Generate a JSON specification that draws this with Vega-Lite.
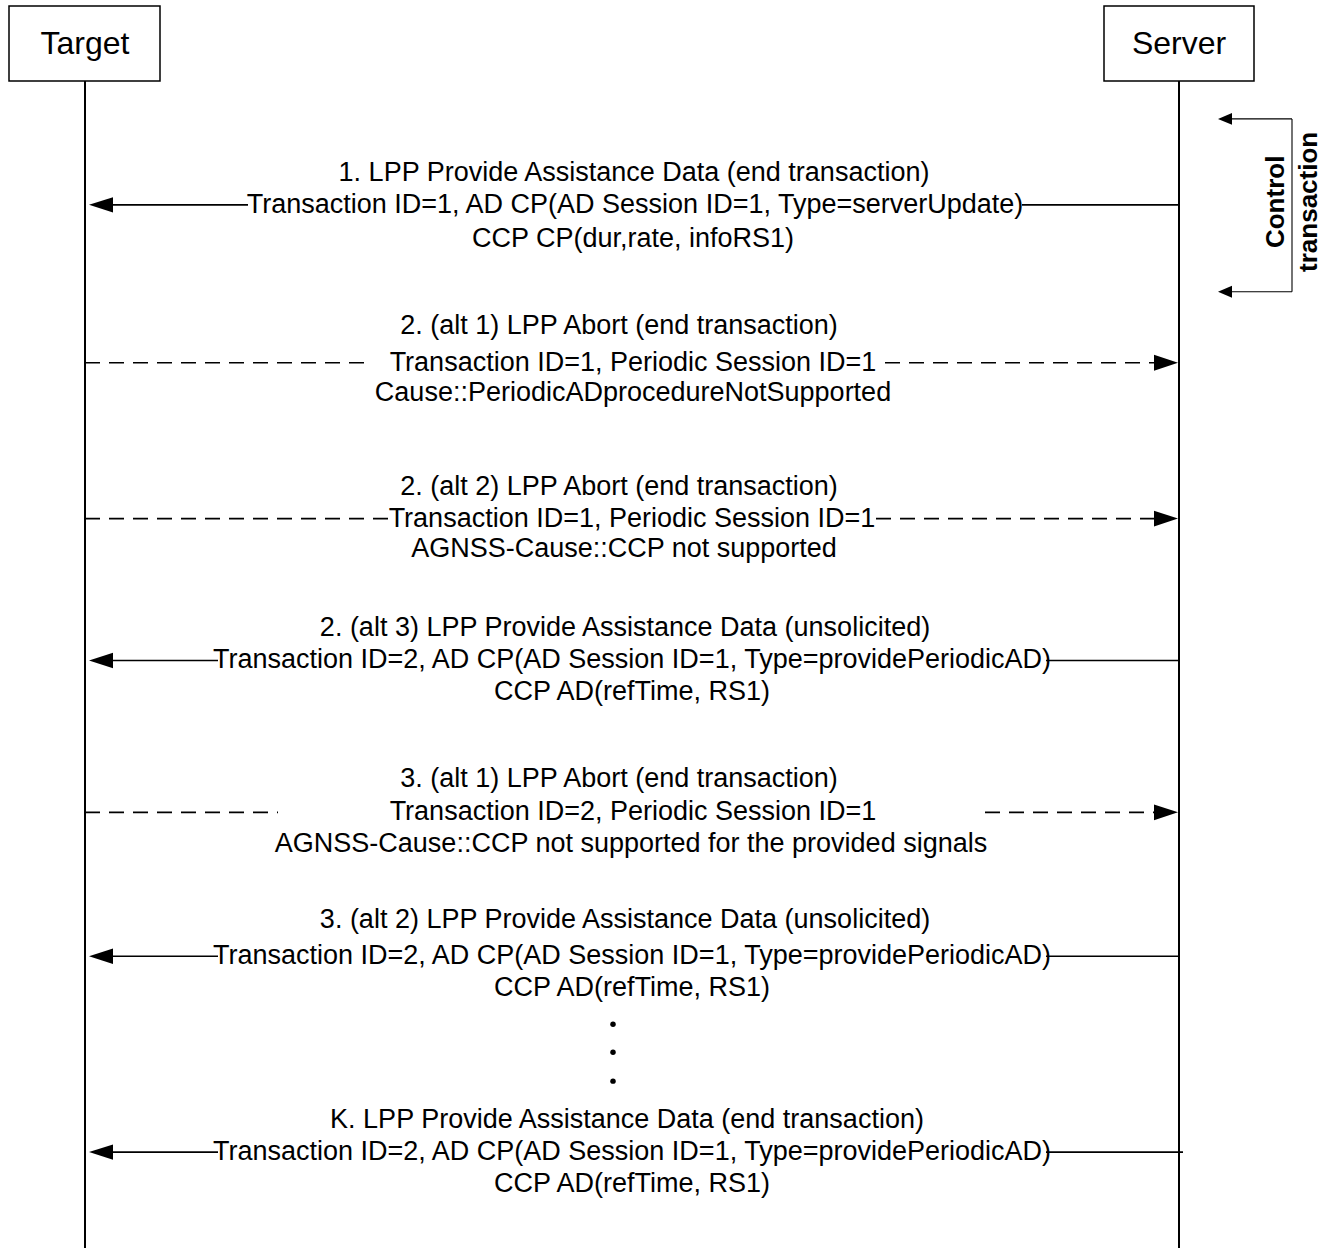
{
  "$schema": "https://vega.github.io/schema/vega-lite/v6.json",
  "autosize": {"type": "fit", "contains": "padding"},
  "width": 1330,
  "height": 1249,
  "padding": 0,
  "background": "white",
  "config": {"view": {"stroke": null}},
  "datasets": {
    "boxes": [
      {"name": "Target", "x": 9, "x2": 160, "y": 6, "y2": 81},
      {"name": "Server", "x": 1104, "x2": 1254, "y": 6, "y2": 81}
    ],
    "lines": [
      {"kind": "life", "x": 85, "x2": 85, "y": 81, "y2": 1249},
      {"kind": "life", "x": 1179, "x2": 1179, "y": 81, "y2": 1249},
      {"kind": "solid", "x": 100, "x2": 248, "y": 205, "y2": 205},
      {"kind": "solid", "x": 1022, "x2": 1179, "y": 205, "y2": 205},
      {"kind": "dashed", "x": 85, "x2": 370, "y": 363, "y2": 363},
      {"kind": "dashed", "x": 885, "x2": 1160, "y": 363, "y2": 363},
      {"kind": "dashed", "x": 85, "x2": 388, "y": 519, "y2": 519},
      {"kind": "dashed", "x": 876, "x2": 1160, "y": 519, "y2": 519},
      {"kind": "solid", "x": 100, "x2": 218, "y": 661, "y2": 661},
      {"kind": "solid", "x": 1046, "x2": 1179, "y": 661, "y2": 661},
      {"kind": "dashed", "x": 85, "x2": 278, "y": 813, "y2": 813},
      {"kind": "dashed", "x": 985, "x2": 1160, "y": 813, "y2": 813},
      {"kind": "solid", "x": 100, "x2": 218, "y": 957, "y2": 957},
      {"kind": "solid", "x": 1046, "x2": 1179, "y": 957, "y2": 957},
      {"kind": "solid", "x": 100, "x2": 218, "y": 1153, "y2": 1153},
      {"kind": "solid", "x": 1046, "x2": 1183, "y": 1153, "y2": 1153},
      {"kind": "ctrl", "x": 1292, "x2": 1292, "y": 119, "y2": 292},
      {"kind": "ctrl", "x": 1225, "x2": 1292, "y": 119, "y2": 119},
      {"kind": "ctrl", "x": 1225, "x2": 1292, "y": 292, "y2": 292}
    ],
    "heads": [
      {"dir": "left", "x": 101, "y": 205},
      {"dir": "left", "x": 101, "y": 661},
      {"dir": "left", "x": 101, "y": 957},
      {"dir": "left", "x": 101, "y": 1153},
      {"dir": "right", "x": 1166, "y": 363},
      {"dir": "right", "x": 1166, "y": 519},
      {"dir": "right", "x": 1166, "y": 813},
      {"dir": "small", "x": 1225, "y": 119},
      {"dir": "small", "x": 1225, "y": 292}
    ],
    "dots": [
      {"x": 613, "y": 1025},
      {"x": 613, "y": 1053},
      {"x": 613, "y": 1082}
    ],
    "labels": [
      {"role": "head", "x": 85, "y": 44, "text": "Target"},
      {"role": "head", "x": 1179, "y": 44, "text": "Server"},
      {"role": "msg", "x": 634, "y": 173, "text": "1. LPP Provide Assistance Data  (end transaction)"},
      {"role": "msg", "x": 635, "y": 205, "text": "Transaction ID=1, AD CP(AD Session ID=1, Type=serverUpdate)"},
      {"role": "msg", "x": 633, "y": 239, "text": "CCP CP(dur,rate, infoRS1)"},
      {"role": "msg", "x": 619, "y": 326, "text": "2. (alt 1) LPP Abort (end transaction)"},
      {"role": "msg", "x": 633, "y": 363, "text": "Transaction ID=1, Periodic Session ID=1"},
      {"role": "msg", "x": 633, "y": 393, "text": "Cause::PeriodicADprocedureNotSupported"},
      {"role": "msg", "x": 619, "y": 487, "text": "2. (alt 2) LPP Abort (end transaction)"},
      {"role": "msg", "x": 632, "y": 519, "text": "Transaction ID=1, Periodic Session ID=1"},
      {"role": "msg", "x": 624, "y": 549, "text": "AGNSS-Cause::CCP not supported"},
      {"role": "msg", "x": 625, "y": 629, "text": "2. (alt 3) LPP Provide Assistance Data (unsolicited)"},
      {"role": "msg", "x": 632, "y": 661, "text": "Transaction ID=2, AD CP(AD Session ID=1, Type=providePeriodicAD)"},
      {"role": "msg", "x": 632, "y": 693, "text": "CCP AD(refTime, RS1)"},
      {"role": "msg", "x": 619, "y": 780, "text": "3. (alt 1) LPP Abort (end transaction)"},
      {"role": "msg", "x": 633, "y": 813, "text": "Transaction ID=2, Periodic Session ID=1"},
      {"role": "msg", "x": 631, "y": 845, "text": "AGNSS-Cause::CCP not supported for the provided signals"},
      {"role": "msg", "x": 625, "y": 921, "text": "3. (alt 2) LPP Provide Assistance Data (unsolicited)"},
      {"role": "msg", "x": 632, "y": 957, "text": "Transaction ID=2, AD CP(AD Session ID=1, Type=providePeriodicAD)"},
      {"role": "msg", "x": 632, "y": 989, "text": "CCP AD(refTime, RS1)"},
      {"role": "msg", "x": 627, "y": 1121, "text": "K. LPP Provide Assistance Data (end transaction)"},
      {"role": "msg", "x": 632, "y": 1153, "text": "Transaction ID=2, AD CP(AD Session ID=1, Type=providePeriodicAD)"},
      {"role": "msg", "x": 632, "y": 1185, "text": "CCP AD(refTime, RS1)"},
      {"role": "ctrl", "x": 1276, "y": 202, "text": "Control"},
      {"role": "ctrl", "x": 1309, "y": 202, "text": "transaction"}
    ]
  },
  "layer": [
    {
      "data": {"name": "boxes"},
      "mark": {"type": "rect", "fill": "white", "stroke": "black", "strokeWidth": 1.5},
      "encoding": {
        "x": {"field": "x", "type": "quantitative", "scale": {"domain": [0, 1330], "nice": false, "zero": false}, "axis": null},
        "x2": {"field": "x2"},
        "y": {"field": "y", "type": "quantitative", "scale": {"domain": [0, 1249], "nice": false, "zero": false, "reverse": true}, "axis": null},
        "y2": {"field": "y2"}
      }
    },
    {
      "data": {"name": "lines"},
      "transform": [{"filter": "datum.kind === 'life'"}],
      "mark": {"type": "rule", "color": "black", "strokeWidth": 2},
      "encoding": {
        "x": {"field": "x", "type": "quantitative", "scale": {"domain": [0, 1330], "nice": false, "zero": false}, "axis": null},
        "x2": {"field": "x2"},
        "y": {"field": "y", "type": "quantitative", "scale": {"domain": [0, 1249], "nice": false, "zero": false, "reverse": true}, "axis": null},
        "y2": {"field": "y2"}
      }
    },
    {
      "data": {"name": "lines"},
      "transform": [{"filter": "datum.kind === 'solid'"}],
      "mark": {"type": "rule", "color": "black", "strokeWidth": 1.6},
      "encoding": {
        "x": {"field": "x", "type": "quantitative", "scale": {"domain": [0, 1330], "nice": false, "zero": false}, "axis": null},
        "x2": {"field": "x2"},
        "y": {"field": "y", "type": "quantitative", "scale": {"domain": [0, 1249], "nice": false, "zero": false, "reverse": true}, "axis": null},
        "y2": {"field": "y2"}
      }
    },
    {
      "data": {"name": "lines"},
      "transform": [{"filter": "datum.kind === 'dashed'"}],
      "mark": {"type": "rule", "color": "black", "strokeWidth": 1.6, "strokeDash": [15, 9]},
      "encoding": {
        "x": {"field": "x", "type": "quantitative", "scale": {"domain": [0, 1330], "nice": false, "zero": false}, "axis": null},
        "x2": {"field": "x2"},
        "y": {"field": "y", "type": "quantitative", "scale": {"domain": [0, 1249], "nice": false, "zero": false, "reverse": true}, "axis": null},
        "y2": {"field": "y2"}
      }
    },
    {
      "data": {"name": "lines"},
      "transform": [{"filter": "datum.kind === 'ctrl'"}],
      "mark": {"type": "rule", "color": "black", "strokeWidth": 1.1},
      "encoding": {
        "x": {"field": "x", "type": "quantitative", "scale": {"domain": [0, 1330], "nice": false, "zero": false}, "axis": null},
        "x2": {"field": "x2"},
        "y": {"field": "y", "type": "quantitative", "scale": {"domain": [0, 1249], "nice": false, "zero": false, "reverse": true}, "axis": null},
        "y2": {"field": "y2"}
      }
    },
    {
      "data": {"name": "heads"},
      "transform": [{"filter": "datum.dir === 'left'"}],
      "mark": {"type": "point", "filled": true, "fill": "black", "strokeWidth": 0, "opacity": 1, "size": 576, "shape": "M -1 0 L 1 -0.64 L 1 0.64 Z"},
      "encoding": {
        "x": {"field": "x", "type": "quantitative", "scale": {"domain": [0, 1330], "nice": false, "zero": false}, "axis": null},
        "y": {"field": "y", "type": "quantitative", "scale": {"domain": [0, 1249], "nice": false, "zero": false, "reverse": true}, "axis": null}
      }
    },
    {
      "data": {"name": "heads"},
      "transform": [{"filter": "datum.dir === 'right'"}],
      "mark": {"type": "point", "filled": true, "fill": "black", "strokeWidth": 0, "opacity": 1, "size": 576, "shape": "M 1 0 L -1 -0.66 L -1 0.66 Z"},
      "encoding": {
        "x": {"field": "x", "type": "quantitative", "scale": {"domain": [0, 1330], "nice": false, "zero": false}, "axis": null},
        "y": {"field": "y", "type": "quantitative", "scale": {"domain": [0, 1249], "nice": false, "zero": false, "reverse": true}, "axis": null}
      }
    },
    {
      "data": {"name": "heads"},
      "transform": [{"filter": "datum.dir === 'small'"}],
      "mark": {"type": "point", "filled": true, "fill": "black", "strokeWidth": 0, "opacity": 1, "size": 196, "shape": "M -1 0 L 1 -0.85 L 1 0.85 Z"},
      "encoding": {
        "x": {"field": "x", "type": "quantitative", "scale": {"domain": [0, 1330], "nice": false, "zero": false}, "axis": null},
        "y": {"field": "y", "type": "quantitative", "scale": {"domain": [0, 1249], "nice": false, "zero": false, "reverse": true}, "axis": null}
      }
    },
    {
      "data": {"name": "dots"},
      "mark": {"type": "circle", "fill": "black", "opacity": 1, "size": 30},
      "encoding": {
        "x": {"field": "x", "type": "quantitative", "scale": {"domain": [0, 1330], "nice": false, "zero": false}, "axis": null},
        "y": {"field": "y", "type": "quantitative", "scale": {"domain": [0, 1249], "nice": false, "zero": false, "reverse": true}, "axis": null}
      }
    },
    {
      "data": {"name": "labels"},
      "transform": [{"filter": "datum.role === 'head'"}],
      "mark": {"type": "text", "font": "Liberation Sans", "fontSize": 32, "color": "black", "align": "center", "baseline": "middle"},
      "encoding": {
        "x": {"field": "x", "type": "quantitative", "scale": {"domain": [0, 1330], "nice": false, "zero": false}, "axis": null},
        "y": {"field": "y", "type": "quantitative", "scale": {"domain": [0, 1249], "nice": false, "zero": false, "reverse": true}, "axis": null},
        "text": {"field": "text"}
      }
    },
    {
      "data": {"name": "labels"},
      "transform": [{"filter": "datum.role === 'msg'"}],
      "mark": {"type": "text", "font": "Liberation Sans", "fontSize": 27, "color": "black", "align": "center", "baseline": "middle"},
      "encoding": {
        "x": {"field": "x", "type": "quantitative", "scale": {"domain": [0, 1330], "nice": false, "zero": false}, "axis": null},
        "y": {"field": "y", "type": "quantitative", "scale": {"domain": [0, 1249], "nice": false, "zero": false, "reverse": true}, "axis": null},
        "text": {"field": "text"}
      }
    },
    {
      "data": {"name": "labels"},
      "transform": [{"filter": "datum.role === 'ctrl'"}],
      "mark": {"type": "text", "font": "Liberation Sans", "fontSize": 26, "fontWeight": "bold", "color": "black", "align": "center", "baseline": "middle", "angle": 270},
      "encoding": {
        "x": {"field": "x", "type": "quantitative", "scale": {"domain": [0, 1330], "nice": false, "zero": false}, "axis": null},
        "y": {"field": "y", "type": "quantitative", "scale": {"domain": [0, 1249], "nice": false, "zero": false, "reverse": true}, "axis": null},
        "text": {"field": "text"}
      }
    }
  ]
}
